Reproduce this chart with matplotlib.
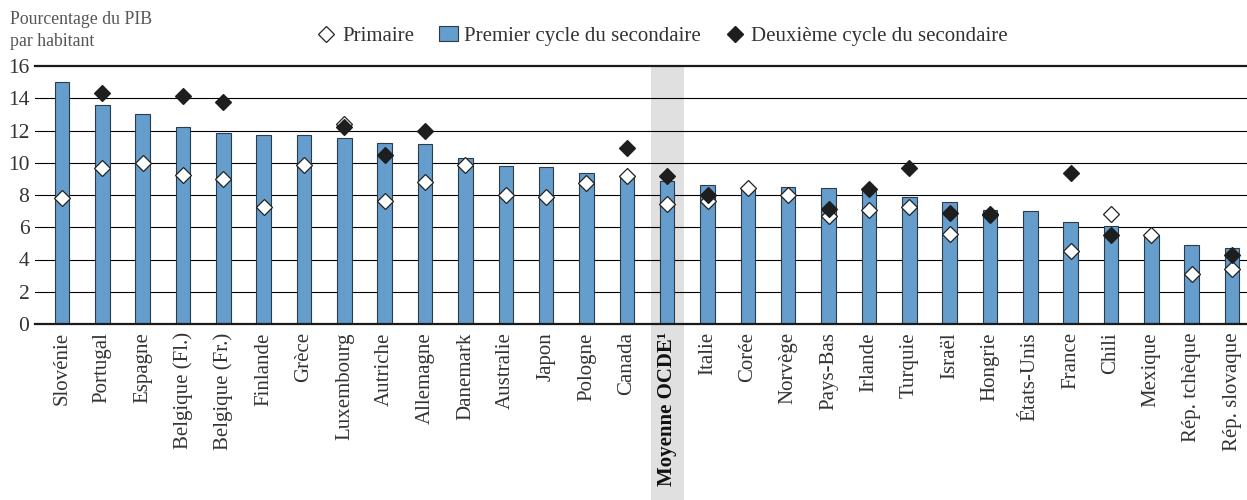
import matplotlib
matplotlib.use("Agg")
import matplotlib.pyplot as plt
import matplotlib.transforms as mtransforms
from matplotlib.lines import Line2D
from matplotlib.patches import Patch, Rectangle
import numpy as np

# data (% of GDP per capita)
countries = ["Slovénie", "Portugal", "Espagne", "Belgique (Fl.)", "Belgique (Fr.)",
             "Finlande", "Grèce", "Luxembourg", "Autriche", "Allemagne", "Danemark",
             "Australie", "Japon", "Pologne", "Canada", "Moyenne OCDE¹", "Italie",
             "Corée", "Norvège", "Pays-Bas", "Irlande", "Turquie", "Israël", "Hongrie",
             "États-Unis", "France", "Chili", "Mexique", "Rép. tchèque", "Rép. slovaque"]
premier = [15.0, 13.6, 13.05, 12.2, 11.85, 11.75, 11.7, 11.55, 11.25, 11.15, 10.3,
           9.8, 9.75, 9.35, 9.15, 8.85, 8.65, 8.5, 8.5, 8.45, 8.35, 7.85, 7.55, 7.1,
           7.0, 6.3, 6.1, 5.5, 4.9, 4.7]
primaire = [7.8, 9.7, 10.0, 9.25, 9.0, 7.25, 9.85, 12.4, 7.6, 8.8, 9.85,
            8.0, 7.85, 8.75, 9.15, 7.45, 7.6, 8.45, 8.0, 6.7, 7.1, 7.25, 5.6, 6.75,
            np.nan, 4.5, 6.8, 5.5, 3.1, 3.4]
deuxieme = [np.nan, 14.35, np.nan, 14.15, 13.75, np.nan, np.nan, 12.2, 10.45, 12.0, np.nan,
            np.nan, np.nan, np.nan, 10.9, 9.2, 8.0, np.nan, np.nan, 7.15, 8.4, 9.65, 6.9, 6.8,
            np.nan, 9.35, 5.5, np.nan, np.nan, 4.25]
highlight = "Moyenne OCDE¹"

bar_color = "#659dcc"
font = "Liberation Serif"
plt.rcParams["font.family"] = [font, "DejaVu Serif"]

fig = plt.figure(figsize=(12.47, 5.0), dpi=100)
ax = fig.add_axes([0.028, 0.352, 0.972, 0.516])

x = np.arange(len(countries))
hi = countries.index(highlight)

# grey band behind the OECD average, running down through the labels
trans = mtransforms.blended_transform_factory(ax.transData, ax.transAxes)
ax.add_patch(Rectangle((hi - 0.41, -0.7), 0.82, 1.7, transform=trans,
                       facecolor="#e0e0e0", edgecolor="none", clip_on=False, zorder=0))

for yv in range(2, 16, 2):
    ax.axhline(yv, color="black", lw=0.8, zorder=1)

ax.bar(x, premier, width=0.36, color=bar_color, edgecolor="#2e3b48", linewidth=0.8, zorder=2)
ax.plot(x, primaire, ls="none", marker="D", ms=7.8, mfc="white", mec="#222222", mew=0.9, zorder=3)
ax.plot(x, deuxieme, ls="none", marker="D", ms=7.8, mfc="#1e1e1e", mec="#1e1e1e", mew=0.9, zorder=4)

ax.set_xlim(-0.67, len(countries) - 0.63)
ax.set_ylim(0, 16)
ax.set_yticks(range(0, 17, 2))
for s in ["left", "right"]:
    ax.spines[s].set_visible(False)
for s in ["top", "bottom"]:
    ax.spines[s].set_linewidth(1.6)
    ax.spines[s].set_color("#1a1a1a")
ax.tick_params(axis="both", length=0, colors="#333333", labelsize=15.5)
ax.tick_params(axis="y", pad=4)
ax.tick_params(axis="x", pad=6)
ax.set_xticks(x)
ax.set_xticklabels(countries, rotation=90, va="top", ha="center", fontsize=15)
for lbl in ax.get_xticklabels():
    if lbl.get_text() == highlight:
        lbl.set_fontweight("bold")
        lbl.set_color("#111111")

fig.text(0.008, 0.978, "Pourcentage du PIB\npar habitant", ha="left", va="top",
         fontsize=12.8, color="#555555", linespacing=1.4)

handles = [Line2D([], [], ls="none", marker="D", ms=7.8, mfc="white", mec="#222222", mew=0.9),
           Patch(facecolor=bar_color, edgecolor="#2e3b48", linewidth=0.8),
           Line2D([], [], ls="none", marker="D", ms=7.8, mfc="#1e1e1e", mec="#1e1e1e")]
fig.legend(handles, ["Primaire", "Premier cycle du secondaire", "Deuxième cycle du secondaire"],
           loc="center", bbox_to_anchor=(0.531, 0.928), ncol=3, frameon=False,
           fontsize=15, handlelength=0.9, handletextpad=0.3, columnspacing=1.2,
           labelcolor="#333333")

fig.savefig("out.png", dpi=100)
